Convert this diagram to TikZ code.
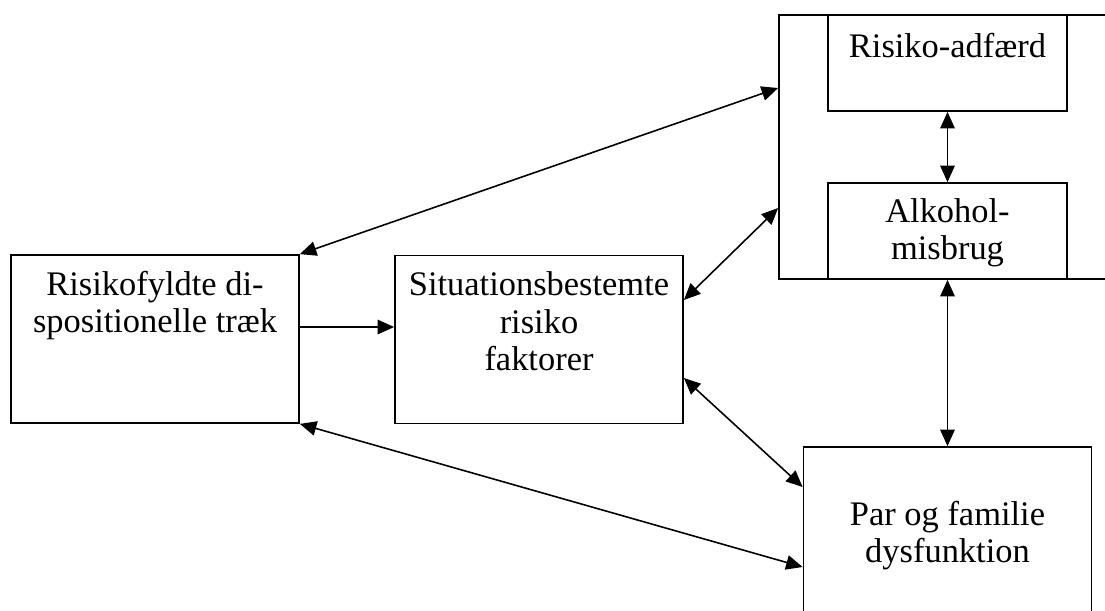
\documentclass[tikz,border=0pt]{standalone}
\usepackage{fontspec}
\setmainfont{Liberation Serif}
\usetikzlibrary{
  arrows.meta,
  positioning
}
\tikzset{
  factorbox/.style={draw=black,line width=1pt,minimum width=5.76cm,minimum height=3.36cm,inner sep=0pt},
  innerbox/.style={draw=black,line width=1pt,minimum width=4.78cm,minimum height=1.92cm,inner sep=0pt},
  groupbox/.style={draw=black,line width=1pt,minimum width=6.6cm,minimum height=5.28cm,inner sep=0pt},
  boxtext/.style={align=center,inner sep=0pt,font=\fontsize{19.6}{21.2}\selectfont},
  twoway/.style={{Triangle[length=3.3mm,width=2.9mm]}-{Triangle[length=3.3mm,width=2.9mm]},line width=0.9pt},
  oneway/.style={-{Triangle[length=3.3mm,width=2.9mm]},line width=0.9pt}
}

\begin{document}
\begin{tikzpicture}
\useasboundingbox (0,0) rectangle (22.1,-12.2);
\node[factorbox] (traits) at (3.10,-6.78) {};
\node[factorbox] (situation) at (10.78,-6.79) {};
\node[groupbox] (outcome) at (18.88,-2.94) {};
\node[innerbox] (behaviour) at (18.95,-1.26) {};
\node[innerbox] (alcohol) at (18.95,-4.62) {};
\node[factorbox, minimum height=3.5cm] (family) at (18.95,-10.69) {};

\node[boxtext, below=3.4mm of traits.north] (traitstext) {Risikofyldte di-\\spositionelle træk};
\node[boxtext, below=3.4mm of situation.north] (situationtext) {Situationsbestemte\\risiko\\faktorer};
\node[boxtext, below=3.8mm of behaviour.north] (behaviourtext) {Risiko-adfærd};
\node[boxtext, below=3.2mm of alcohol.north] (alcoholtext) {Alkohol-\\misbrug};
\node[boxtext, below=11mm of family.north] (familytext) {Par og familie\\dysfunktion};

\draw[oneway] ([yshift=2.4mm]traits.east) -- ([yshift=2.4mm]traits.east -| situation.west);
\draw[twoway] (traits.north east) -- ([yshift=11.8mm]outcome.west);
\draw[twoway] ([yshift=7.9mm]situation.east) -- ([yshift=-12.2mm]outcome.west);
\draw[twoway] ([yshift=-7.7mm]situation.east) -- ([yshift=9.5mm]family.west);
\draw[twoway] (traits.south east) -- ([yshift=-6.5mm]family.west);
\draw[twoway] (behaviour.south) -- (alcohol.north);
\draw[twoway] (alcohol.south) -- (family.north);
\end{tikzpicture}
\end{document}
